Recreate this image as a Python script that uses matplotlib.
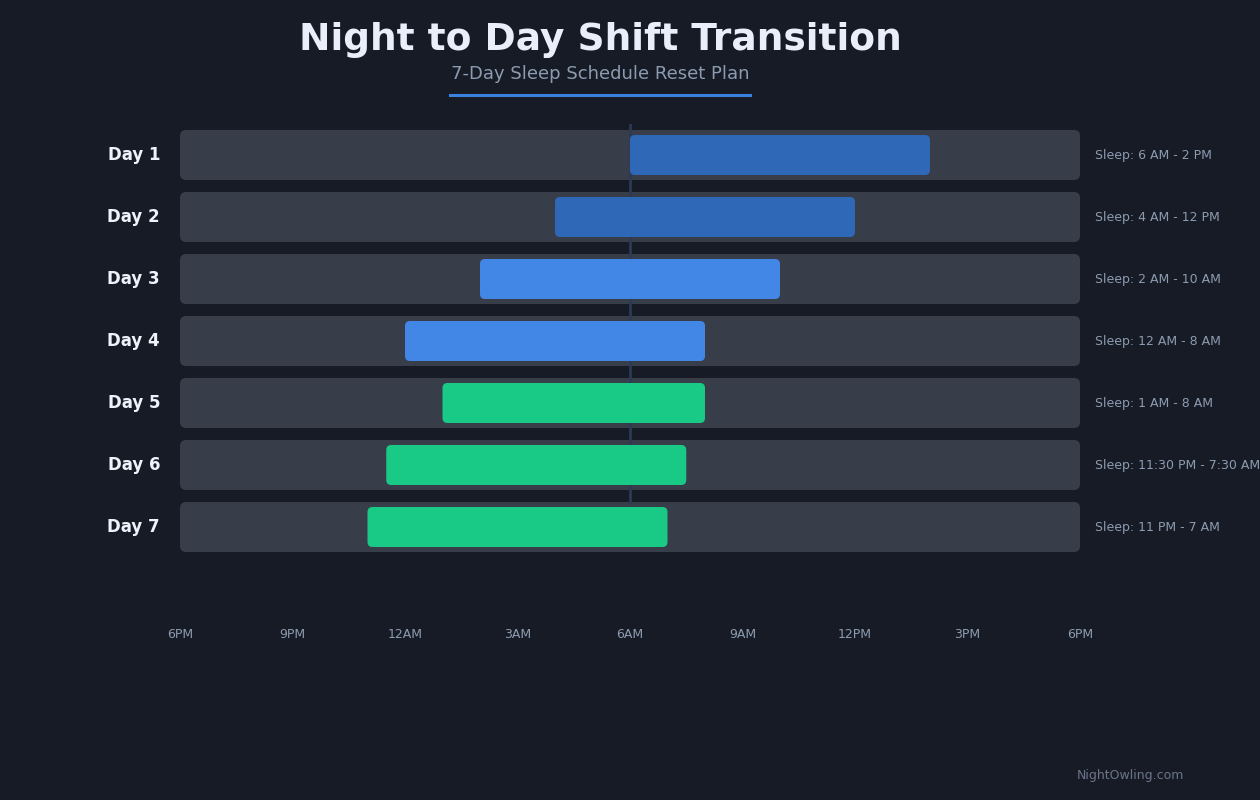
import matplotlib
matplotlib.use("Agg")
import matplotlib.pyplot as plt
from matplotlib.patches import FancyBboxPatch

days = ["Day 1", "Day 2", "Day 3", "Day 4", "Day 5", "Day 6", "Day 7"]
starts = [12, 10, 8, 6, 7, 5.5, 5]          # hours since 6PM
durations = [8, 8, 8, 8, 7, 8, 8]
labels = ["Sleep: 6 AM - 2 PM", "Sleep: 4 AM - 12 PM", "Sleep: 2 AM - 10 AM",
          "Sleep: 12 AM - 8 AM", "Sleep: 1 AM - 8 AM", "Sleep: 11:30 PM - 7:30 AM",
          "Sleep: 11 PM - 7 AM"]
colors = ["#3068b8", "#3068b8", "#4287e6", "#4287e6", "#19c986", "#19c986", "#19c986"]
tick_pos = [0, 3, 6, 9, 12, 15, 18, 21, 24]
tick_labels = ["6PM", "9PM", "12AM", "3AM", "6AM", "9AM", "12PM", "3PM", "6PM"]

BG = "#161b26"
W, H = 1260, 800
fig = plt.figure(figsize=(12.6, 8), dpi=100, facecolor=BG)
ax = fig.add_axes([180 / W, 1 - 558 / H, 900 / W, 434 / H])
ax.set_facecolor(BG)
ax.set_xlim(0, 24)
ax.set_ylim(7, 0)
ax.axis("off")

asp = (1 / 62) / (1 / 37.5)
for i in range(len(days)):
    c = i + 0.5
    th = 50 / 62
    ax.add_patch(FancyBboxPatch((0, c - th / 2), 24, th, boxstyle="round,pad=0,rounding_size=0.16",
                                mutation_aspect=asp, fc="#383d4a", ec="none", zorder=1))
    bh = 40 / 62
    ax.add_patch(FancyBboxPatch((starts[i], c - bh / 2), durations[i], bh,
                                boxstyle="round,pad=0,rounding_size=0.133",
                                mutation_aspect=asp, fc=colors[i], ec="none", zorder=3))
    ax.text(-20 / 37.5, c, days[i], ha="right", va="center", color="#eef2fa",
            fontsize=12, fontweight="bold")
    ax.text(24 + 15 / 37.5, c, labels[i], ha="left", va="center", color="#8d9bb0",
            fontsize=9, clip_on=False)

ax.plot([12, 12], [0.0, 6.1], color="#2b3a55", lw=2, zorder=2)

for p, l in zip(tick_pos, tick_labels):
    ax.text(p, 7 + 77 / 62, l, ha="center", va="center", color="#8d9bb0", fontsize=9, clip_on=False)

fig.text(600 / W, 1 - 40 / H, "Night to Day Shift Transition", ha="center", va="center",
         color="#e8eefa", fontsize=27, fontweight="bold")
fig.text(600 / W, 1 - 74 / H, "7-Day Sleep Schedule Reset Plan", ha="center", va="center",
         color="#8d9bb0", fontsize=13)
fig.add_artist(plt.Line2D([450 / W, 750 / W], [1 - 95 / H] * 2, color="#3b82e0", lw=2.2))
fig.text(1130 / W, 1 - 775 / H, "NightOwling.com", ha="center", va="center",
         color="#6b7588", fontsize=9)

fig.savefig("out.png", dpi=100, facecolor=BG)
